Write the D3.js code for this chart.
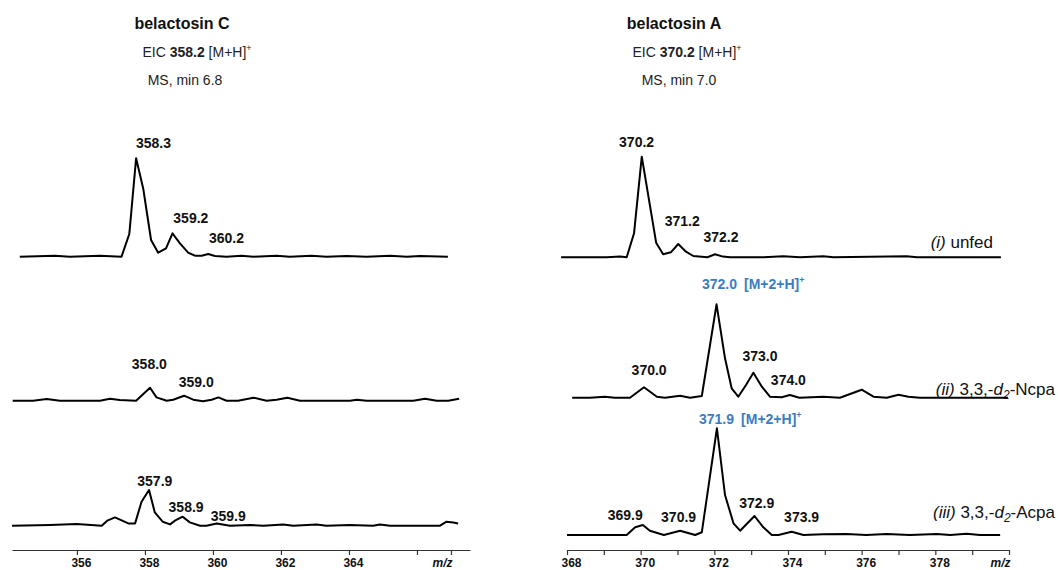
<!DOCTYPE html>
<html>
<head>
<meta charset="utf-8">
<script src="https://cdn.jsdelivr.net/npm/d3@7"></script>
<style>
  body { margin: 0; background: #fff; }
  svg text { font-family: Arial, "Liberation Sans", sans-serif; fill: #111; }
</style>
</head>
<body>
<div id="chart"></div>
<script>
// ---- data (m/z and relative intensity) ----
// belactosin C, EIC 358.2
const mzCUnfed  = [354.32, 355.35, 355.79, 356.68, 357.31, 357.54, 357.74, 357.95, 358.18, 358.39, 358.62, 358.81, 359.03, 359.27, 359.47, 359.67, 359.86, 360.06, 360.40, 360.84, 361.19, 361.87, 362.26, 362.90, 363.34, 363.93, 364.52, 365.21, 365.70, 366.09, 366.91];
const intCUnfed = [0, 1, 0, 1, 0, 22.7, 98.4, 68, 16.7, 4, 8.4, 23.4, 13.4, 4, 1, 1, 2.7, 0.7, 0, 1, 0, 1, 0, 1, 0, 0.7, 0, 1, 0, 0.7, 0];

const mzCNcpa  = [354.11, 354.71, 355.11, 355.50, 356.68, 356.97, 357.26, 357.74, 358.15, 358.34, 358.64, 358.83, 359.15, 359.42, 359.71, 359.96, 360.16, 360.40, 360.74, 361.19, 361.58, 361.87, 362.19, 362.56, 362.85, 364.03, 364.23, 364.52, 365.89, 366.24, 366.58, 366.92, 367.24];
const intCNcpa = [0, 0, 1.7, 0, 0, 2, 0.7, 0, 13, 3.3, 0, 1, 5, 1, -0.5, 1, 3.3, 0, 0, 3, 0, 1, 3, 0, 0, 0, 1, 0, 0, 2, 0, 0, 2];

const mzCAcpa  = [354.09, 355.21, 355.99, 356.73, 356.89, 357.12, 357.51, 357.71, 357.90, 358.12, 358.29, 358.52, 358.74, 358.88, 359.11, 359.32, 359.62, 359.81, 360.11, 360.50, 361.09, 361.48, 362.07, 362.36, 363.05, 363.34, 364.03, 364.71, 364.91, 365.21, 366.68, 366.87, 367.07, 367.21];
const intCAcpa = [0, 0.7, 1.7, 0, 5, 8.3, 2.3, 2.3, 24, 35.7, 13.3, 4, 1.3, 5, 9, 3.3, 0, 0, 2.3, 0, 0.7, 0, 1.3, 0, 1.3, 0, 0.7, 0, 1.3, 0, 0, 4, 3.3, 2.3];

// belactosin A, EIC 370.2
const mzAUnfed  = [367.84, 369.08, 369.44, 369.62, 369.82, 370.03, 370.42, 370.61, 370.82, 371.02, 371.23, 371.43, 371.81, 372.02, 372.23, 372.43, 373.33, 373.87, 374.33, 374.96, 375.23, 377.22, 377.50, 379.78];
const intAUnfed = [0, 0, 0.7, 0, 24, 100.6, 14.6, 3, 5, 13.3, 5.6, 1.3, 0, 3, 0.7, 0, 0, 1, 0, 1, 0, 1, 0, 0];

const mzANcpa  = [368.14, 368.62, 369.03, 369.30, 369.71, 370.09, 370.44, 370.66, 371.07, 371.34, 371.66, 372.06, 372.29, 372.47, 372.65, 372.86, 373.06, 373.29, 373.51, 373.83, 374.05, 374.31, 374.96, 375.41, 376.00, 376.32, 376.68, 377.00, 377.27, 377.58, 379.97];
const intANcpa = [0, 0, 1, 0, 0, 10.4, 1, 0, 2, 0, 1.7, 93.4, 39.4, 9.4, 1, 12.7, 25, 11, 1, 0.5, 2.7, 0, 1, 0, 8, 1, 0, 3, 1, 0, 0];

const mzAAcpa  = [368.00, 368.62, 369.62, 369.85, 370.06, 370.25, 370.63, 371.07, 371.48, 371.66, 372.07, 372.29, 372.52, 372.70, 373.09, 373.33, 373.56, 373.74, 374.10, 374.42, 374.95, 375.59, 376.12, 376.68, 377.31, 378.04, 378.40, 378.85, 379.21, 379.76];
const intAAcpa = [0, 0, 0, 7.7, 10, 4.3, 0, 4.3, 0, 2.7, 106.7, 40, 11.7, 4.3, 19, 7.7, 0, 0, 3.3, 0, 0.7, 1, 0, 1, 0, 1, 0, 1.3, 0, 0];

// peak labels: [text, m/z of label centre, label level]
const labCUnfed = [["358.3", 358.25, 108.4], ["359.2", 359.35, 34], ["360.2", 360.40, 13.4]];
const labCNcpa  = [["358.0", 358.13, 31.4], ["359.0", 359.51, 14]];
const labCAcpa  = [["357.9", 358.29, 40.2], ["358.9", 359.21, 14], ["359.9", 360.45, 4.7]];
const labAUnfed = [["370.2", 369.89, 110.3], ["371.2", 371.13, 31.3], ["372.2", 372.18, 15.6]];
const labANcpa  = [["370.0", 370.23, 22.7], ["373.0", 373.24, 37], ["374.0", 374.01, 12.7]];
const labAAcpa  = [["369.9", 369.58, 15], ["370.9", 371.03, 12.7], ["372.9", 373.15, 26.7], ["373.9", 374.37, 13.3]];
// highlighted M+2 peaks: [text, m/z, level]
const hiANcpa = ["372.0", 372.14, 108.4];
const hiAAcpa = ["371.9", 372.06, 111];

// axes
const ticksC = [356, 358, 360, 362, 364, 366, 367];
const tickLabC = ["356", "358", "360", "362", "364", "", "m/z"];
const ticksA = [368, 369, 370, 371, 372, 373, 374, 375, 376, 377, 378, 379, 380];
const tickLabA = ["368", "", "370", "", "372", "", "374", "", "376", "", "378", "", "m/z"];

const blue = "#3a7dc0";

const svg = d3.select("#chart").append("svg")
    .attr("width", 1058)
    .attr("height", 570);

function sup(t, s) {
    t.append("tspan").text(s).attr("font-size", 9).attr("dy", -6);
}

// titles
function header(cx, name, eicMz, eicX, msText, msX) {
    svg.append("text").attr("x", cx).attr("y", 29)
        .attr("text-anchor", "middle").attr("font-size", 16).attr("font-weight", "bold")
        .text(name);
    const e = svg.append("text").attr("x", eicX).attr("y", 57)
        .attr("text-anchor", "middle").attr("font-size", 14).style("fill", "#222");
    e.append("tspan").text("EIC ");
    e.append("tspan").attr("font-weight", "bold").text(eicMz);
    e.append("tspan").text(" [M+H]");
    sup(e, "+");
    svg.append("text").attr("x", msX).attr("y", 85)
        .attr("text-anchor", "middle").attr("font-size", 14).style("fill", "#222")
        .text(msText);
}
header(182, "belactosin C", "358.2", 197, "MS, min 6.8", 185);
header(674, "belactosin A", "370.2", 687, "MS, min 7.0", 679);

function panel(cfg) {
    let x = d3.scaleLinear().domain(cfg.domain).range(cfg.range);

    cfg.rows.forEach((row) => {
        let y = d3.scaleLinear().domain([0, 100]).range([row.base, row.base - 100]);
        let pts = row.mz.map((m, i) => [m, row.int[i]]);

        svg.append("path")
            .datum(pts)
            .attr("fill", "none")
            .attr("stroke", "#000")
            .attr("stroke-width", 2)
            .attr("stroke-linejoin", "round")
            .attr("d", d3.line().x((d) => x(d[0])).y((d) => y(d[1])));

        svg.selectAll(null)
            .data(row.labels)
            .enter()
            .append("text")
            .attr("x", (d) => x(d[1]))
            .attr("y", (d) => y(d[2]))
            .attr("text-anchor", "middle")
            .attr("font-size", 14)
            .attr("font-weight", "bold")
            .text((d) => d[0]);

        if (row.hi) {
            let num = svg.append("text")
                .attr("x", x(row.hi[1]))
                .attr("y", y(row.hi[2]))
                .attr("text-anchor", "middle")
                .attr("font-size", 14)
                .attr("font-weight", "bold")
                .style("fill", blue)
                .text(row.hi[0]);
            let w = num.node().getComputedTextLength();
            let ad = svg.append("text")
                .attr("x", x(row.hi[1]) + w / 2 + 7)
                .attr("y", y(row.hi[2]))
                .attr("font-size", 14)
                .attr("font-weight", "bold")
                .style("fill", blue);
            ad.append("tspan").text("[M+2+H]");
            sup(ad, "+");
        }

        if (row.legend) {
            let t = svg.append("text")
                .attr("x", row.legend.x)
                .attr("y", y(row.legend.level))
                .attr("text-anchor", "end")
                .attr("font-size", 17)
                .style("fill", "#111");
            t.append("tspan").attr("font-style", "italic").text(row.legend.num);
            if (row.legend.label) {
                t.append("tspan").text(" 3,3,-");
                t.append("tspan").attr("font-style", "italic").text("d");
                t.append("tspan").attr("font-style", "italic").attr("font-size", 12).attr("dy", 4).text("2");
                t.append("tspan").attr("dy", -4).text("-" + row.legend.label);
            } else {
                t.append("tspan").text(" unfed");
            }
        }
    });

    let ax = svg.append("g")
        .attr("transform", `translate(0, ${cfg.axisY})`)
        .call(d3.axisBottom(x)
            .tickValues(cfg.ticks)
            .tickFormat((d, i) => cfg.tickLabels[i])
            .tickSize(5)
            .tickSizeOuter(0));
    ax.select(".domain").attr("stroke", "#333").attr("stroke-width", 1.2);
    ax.selectAll(".tick line").attr("stroke", "#333").attr("stroke-width", 1.2);
    ax.selectAll(".tick text")
        .attr("font-family", "Arial, 'Liberation Sans', sans-serif")
        .attr("font-size", 12)
        .attr("font-weight", "bold")
        .attr("fill", "#111")
        .attr("dx", (d, i) => cfg.tickLabels[i] === "m/z" ? -9 : 4)
        .attr("font-style", (d, i) => cfg.tickLabels[i] === "m/z" ? "italic" : null);
}

panel({
    domain: [354.09, 367.56],
    range: [12, 470],
    axisY: 550,
    ticks: ticksC,
    tickLabels: tickLabC,
    rows: [
        { mz: mzCUnfed, int: intCUnfed, base: 256.7, labels: labCUnfed },
        { mz: mzCNcpa, int: intCNcpa, base: 400.7, labels: labCNcpa },
        { mz: mzCAcpa, int: intCAcpa, base: 525.7, labels: labCAcpa }
    ]
});

panel({
    domain: [368, 380],
    range: [567, 1009],
    axisY: 550,
    ticks: ticksA,
    tickLabels: tickLabA,
    rows: [
        { mz: mzAUnfed, int: intAUnfed, base: 257.3, labels: labAUnfed,
          legend: { x: 993, level: 9, num: "(i)" } },
        { mz: mzANcpa, int: intANcpa, base: 397.7, labels: labANcpa, hi: hiANcpa,
          legend: { x: 1055, level: 3, num: "(ii)", label: "Ncpa" } },
        { mz: mzAAcpa, int: intAAcpa, base: 535, labels: labAAcpa, hi: hiAAcpa,
          legend: { x: 1055, level: 17, num: "(iii)", label: "Acpa" } }
    ]
});
</script>
</body>
</html>
